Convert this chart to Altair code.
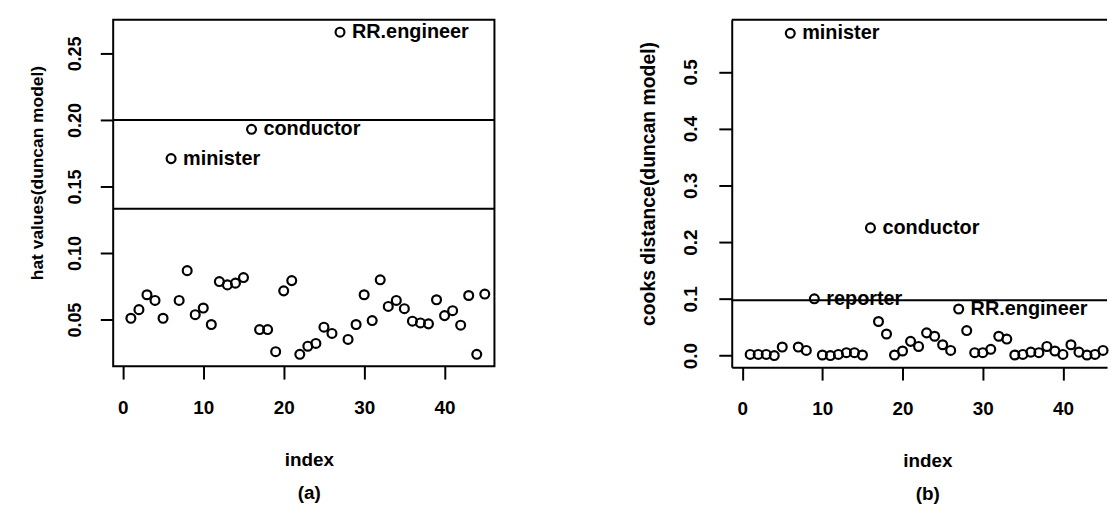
import altair as alt
import pandas as pd

# ---------------- data ----------------
index = list(range(1, 46))

hat_values = [0.051, 0.0575, 0.0687, 0.0644, 0.051, 0.171, 0.0644, 0.0868, 0.0537, 0.0587,
              0.0463, 0.0786, 0.0761, 0.0774, 0.0816, 0.193, 0.0425, 0.0425, 0.0259, 0.0716,
              0.0793, 0.0239, 0.030, 0.0321, 0.0443, 0.0396, 0.266, 0.0351, 0.0463, 0.0687,
              0.0493, 0.0799, 0.0599, 0.0644, 0.0582, 0.0488, 0.0475, 0.0468, 0.0649, 0.053,
              0.0567, 0.0458, 0.0681, 0.0239, 0.0692]

cooks_values = [0.002, 0.002, 0.002, 0.000, 0.015, 0.568, 0.015, 0.009, 0.100, 0.001,
                0.000, 0.002, 0.005, 0.005, 0.001, 0.225, 0.060, 0.038, 0.001, 0.008,
                0.025, 0.016, 0.040, 0.034, 0.019, 0.009, 0.082, 0.044, 0.005, 0.005,
                0.011, 0.034, 0.029, 0.001, 0.002, 0.006, 0.005, 0.016, 0.008, 0.002,
                0.019, 0.006, 0.001, 0.002, 0.009]

hat_label_index = [6, 16, 27]
hat_label_text = ["minister", "conductor", "RR.engineer"]
cooks_label_index = [6, 9, 16, 27]
cooks_label_text = ["minister", "reporter", "conductor", "RR.engineer"]

hat_cutoffs = [0.1333, 0.2]
cooks_cutoffs = [0.0976]

hat_ticks = [0.05, 0.10, 0.15, 0.20, 0.25]
cooks_ticks = [0.0, 0.1, 0.2, 0.3, 0.4, 0.5]
index_ticks = [0, 10, 20, 30, 40]

FONT = "Liberation Sans"

hat_df = pd.DataFrame({"index": index, "value": hat_values})
cooks_df = pd.DataFrame({"index": index, "value": cooks_values})
hat_lab = pd.DataFrame({"index": hat_label_index, "label": hat_label_text,
                        "value": [hat_values[i - 1] for i in hat_label_index]})
cooks_lab = pd.DataFrame({"index": cooks_label_index, "label": cooks_label_text,
                          "value": [cooks_values[i - 1] for i in cooks_label_index]})
hat_cut_df = pd.DataFrame({"cut": hat_cutoffs})
cooks_cut_df = pd.DataFrame({"cut": cooks_cutoffs})


def panel(df, lab, cut_df, xdom, ydom, yticks, yfmt, ytitle, caption,
          w, h, ytitle_x, ytitle_y, ylab_pad, ylab_size, ytitle_size, framed):
    xaxis = alt.Axis(values=index_ticks, format="d", title=["index", caption],
                     grid=False, domain=not framed, domainColor="black", domainWidth=2,
                     tickSize=13, tickColor="black", tickWidth=2,
                     labelFont=FONT, labelFontSize=19, labelFontWeight="bold",
                     labelColor="black", labelPadding=20,
                     titleFont=FONT, titleFontSize=19, titleFontWeight="bold",
                     titleColor="black", titleX=197, titleY=85, titleAlign="center",
                     titleBaseline="top", titleLineHeight=33)
    yaxis = alt.Axis(values=yticks, format=yfmt, title=ytitle, grid=False,
                     domain=not framed, domainColor="black", domainWidth=2,
                     tickSize=13, tickColor="black", tickWidth=2,
                     labelFont=FONT, labelFontSize=ylab_size, labelFontWeight="bold",
                     labelColor="black",
                     labelAngle=270, labelAlign="center", labelBaseline="middle",
                     labelPadding=ylab_pad,
                     titleFont=FONT, titleFontSize=ytitle_size, titleFontWeight="bold",
                     titleColor="black", titleAngle=270, titleAlign="center",
                     titleBaseline="middle", titleX=ytitle_x, titleY=ytitle_y)
    x = alt.X("index:Q", scale=alt.Scale(domain=xdom, nice=False, zero=False), axis=xaxis)
    y = alt.Y("value:Q", scale=alt.Scale(domain=ydom, nice=False, zero=False), axis=yaxis)

    pts = alt.Chart(df).mark_point(shape="circle", filled=False, color="black",
                                   size=80, strokeWidth=2.2, opacity=1).encode(x=x, y=y)
    txt = alt.Chart(lab).mark_text(align="left", baseline="middle", dx=12, font=FONT,
                                   fontSize=20, fontWeight="bold", color="black").encode(
        x="index:Q", y="value:Q", text="label:N")
    cuts = alt.Chart(cut_df).mark_rule(color="black", strokeWidth=2).encode(y="cut:Q")
    layers = [pts, cuts, txt]
    if not framed:
        top = alt.Chart(cut_df).mark_rule(color="black", strokeWidth=2).encode(
            y=alt.value(0))
        layers.append(top)
        return alt.layer(*layers).properties(
            width=w, height=h, view=alt.ViewBackground(strokeOpacity=0))
    return alt.layer(*layers).properties(width=w, height=h)


pa = panel(hat_df, hat_lab, hat_cut_df, [-1.2, 46.2], [0.015, 0.2754], hat_ticks, ".2f",
           "hat values(duncan model)", "(a)", 384, 349, -76, 154, 25, 18, 17.5, True)
pb = panel(cooks_df, cooks_lab, cooks_cut_df, [-1.3, 45.5], [-0.0205, 0.592], cooks_ticks,
           ".1f", "cooks distance(duncan model)", "(b)", 378, 350, -84, 165, 28, 19, 19.5,
           False)

chart = alt.hconcat(pa, pb, spacing=143).properties(
    padding={"left": 28, "top": 17, "right": 0, "bottom": 0},
    background="white",
).configure_view(stroke="black", strokeWidth=2)

chart.save("out.html", embed_options={"renderer": "svg", "actions": False})
